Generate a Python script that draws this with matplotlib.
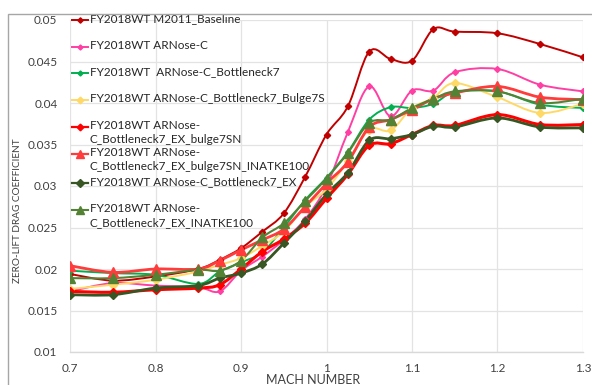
import numpy as np
import matplotlib
matplotlib.use("Agg")
import matplotlib.pyplot as plt
from matplotlib.path import Path
from matplotlib.patches import PathPatch, Rectangle
from matplotlib.lines import Line2D

plt.rcParams['font.family'] = ['Lato', 'DejaVu Sans']

mach = [0.7, 0.75, 0.8, 0.85, 0.875, 0.9, 0.925, 0.95, 0.975, 1.0, 1.025,
        1.05, 1.075, 1.1, 1.125, 1.15, 1.2, 1.25, 1.3]

baseline = [0.0194, 0.0186, 0.0191, 0.0200, 0.0211, 0.0225, 0.0245, 0.0267, 0.0311, 0.0362,
            0.0396, 0.0462, 0.0453, 0.0451, 0.0489, 0.0486, 0.0484, 0.0471, 0.0455]
arnose_c = [0.0173, 0.0183, 0.0180, 0.0178, 0.0173, 0.0198, 0.0215, 0.0235, 0.0260, 0.0300,
            0.0365, 0.0420, 0.0384, 0.0415, 0.0415, 0.0437, 0.0441, 0.0422, 0.0414]
bottleneck7 = [0.0198, 0.0195, 0.0193, 0.0182, 0.0197, 0.0208, 0.0220, 0.0250, 0.0283, 0.0310,
               0.0341, 0.0380, 0.0395, 0.0394, 0.0399, 0.0413, 0.0414, 0.0398, 0.0394]
bulge7s = [0.0176, 0.0181, 0.0187, 0.0197, 0.0205, 0.0213, 0.0228, 0.0245, 0.0275, 0.0296,
           0.0330, 0.0368, 0.0367, 0.0394, 0.0406, 0.0424, 0.0407, 0.0388, 0.0399]
ex_bulge7sn = [0.0173, 0.0172, 0.0175, 0.0177, 0.0181, 0.0200, 0.0221, 0.0236, 0.0255, 0.0285,
               0.0314, 0.0349, 0.0351, 0.0362, 0.0373, 0.0373, 0.0386, 0.0374, 0.0374]
ex_bulge7sn_inatke = [0.0204, 0.0196, 0.0200, 0.0200, 0.0210, 0.0223, 0.0235, 0.0248, 0.0275, 0.0303,
                      0.0329, 0.0371, 0.0380, 0.0392, 0.0405, 0.0412, 0.0420, 0.0407, 0.0404]
ex = [0.0169, 0.0169, 0.0177, 0.0180, 0.0189, 0.0195, 0.0206, 0.0231, 0.0258, 0.0290,
      0.0316, 0.0355, 0.0357, 0.0362, 0.0372, 0.0371, 0.0382, 0.0371, 0.0370]
ex_inatke = [0.0189, 0.0189, 0.0193, 0.0199, 0.0198, 0.0210, 0.0238, 0.0255, 0.0282, 0.0309,
             0.0340, 0.0376, 0.0380, 0.0394, 0.0405, 0.0414, 0.0414, 0.0400, 0.0405]

labels = ["FY2018WT M2011_Baseline",
          "FY2018WT ARNose-C",
          "FY2018WT  ARNose-C_Bottleneck7",
          "FY2018WT ARNose-C_Bottleneck7_Bulge7S",
          "FY2018WT ARNose-\nC_Bottleneck7_EX_bulge7SN",
          "FY2018WT ARNose-\nC_Bottleneck7_EX_bulge7SN_INATKE100",
          "FY2018WT ARNose-C_Bottleneck7_EX",
          "FY2018WT ARNose-\nC_Bottleneck7_EX_INATKE100"]

series = [baseline, arnose_c, bottleneck7, bulge7s, ex_bulge7sn, ex_bulge7sn_inatke, ex, ex_inatke]
styles = [
    dict(color='#C00000', lw=1.4, marker='D', ms=3.2),
    dict(color='#FF3FA4', lw=1.4, marker='D', ms=3.0),
    dict(color='#00B050', lw=1.4, marker='D', ms=3.0),
    dict(color='#FFD966', lw=1.4, marker='D', ms=4.0),
    dict(color='#FF0000', lw=2.2, marker='D', ms=4.0),
    dict(color='#FF3B3B', lw=2.0, marker='^', ms=7.5),
    dict(color='#375623', lw=2.0, marker='D', ms=4.5),
    dict(color='#548235', lw=1.5, marker='^', ms=6.5),
]


def smooth_path(x, y):
    pts = np.column_stack([x, y]).astype(float)
    n = len(pts)
    verts = [pts[0]]
    codes = [Path.MOVETO]
    for i in range(n - 1):
        p0 = pts[i - 1] if i > 0 else pts[i]
        p1 = pts[i]
        p2 = pts[i + 1]
        p3 = pts[i + 2] if i + 2 < n else pts[i + 1]
        c1 = p1 + (p2 - p0) / 6.0
        c2 = p2 - (p3 - p1) / 6.0
        verts += [c1, c2, p2]
        codes += [Path.CURVE4] * 3
    return Path(verts, codes)


W, H = 592, 385
fig = plt.figure(figsize=(W / 100, H / 100), dpi=100)
ax = fig.add_axes([70 / W, 1 - 352 / H, (583 - 70) / W, (352 - 20) / H])

# outer chart frame
fig.patches.append(Rectangle((8 / W, -0.05), 1.1, 1 - 14 / H + 0.05, transform=fig.transFigure,
                             fill=False, edgecolor='#A6A6A6', lw=1.0))

for vals, st in zip(series, styles):
    patch = PathPatch(smooth_path(mach, vals), fill=False, edgecolor=st['color'],
                      lw=st['lw'], capstyle='round', joinstyle='round', zorder=3)
    ax.add_patch(patch)
    ax.plot(mach, vals, ls='none', marker=st['marker'], ms=st['ms'],
            color=st['color'], mec=st['color'], zorder=4)

ax.set_xlim(0.7, 1.3)
ax.set_ylim(0.01, 0.05)
ax.set_xticks([0.7, 0.8, 0.9, 1.0, 1.1, 1.2, 1.3])
ax.set_xticklabels(['0.7', '0.8', '0.9', '1', '1.1', '1.2', '1.3'])
ax.set_yticks([0.01, 0.015, 0.02, 0.025, 0.03, 0.035, 0.04, 0.045, 0.05])
ax.set_yticklabels(['0.01', '0.015', '0.02', '0.025', '0.03', '0.035', '0.04', '0.045', '0.05'])
ax.grid(True, color='#E3E3E3', lw=0.9)
ax.set_axisbelow(True)
for s in ['top', 'right', 'left']:
    ax.spines[s].set_visible(False)
ax.spines['bottom'].set_color('#D9D9D9')
ax.spines['bottom'].set_linewidth(1.0)
ax.tick_params(length=0, labelsize=8.5, colors='#404040', pad=8)
ax.tick_params(axis='y', pad=9)

fig.text(313 / W, 1 - 380 / H, 'MACH NUMBER', ha='center', va='center', fontsize=9, color='#404040')
fig.text(18 / W, 1 - 211 / H, 'ZERO-LIFT DRAG COEFFICIENT', ha='center', va='center',
         rotation=90, fontsize=7.2, color='#404040')

# manual legend (Excel-style, handle aligned with first line)
leg_y = [20, 47, 73, 100, 127, 154, 183, 210]
for lab, st, yp in zip(labels, styles, leg_y):
    yf = (352 - yp) / 332
    ax.add_line(Line2D([2 / 513, 18 / 513], [yf, yf], transform=ax.transAxes, color=st['color'],
                       lw=min(st['lw'], 1.6), clip_on=False, zorder=5))
    ax.add_line(Line2D([10 / 513], [yf], transform=ax.transAxes, color=st['color'], ls='none',
                       marker=st['marker'], ms=st['ms'] * 0.85, clip_on=False, zorder=5))
    ax.text(20 / 513, yf + 7 / 332, lab, transform=ax.transAxes, ha='left', va='top',
            fontsize=8.5, color='#262626', linespacing=1.3, zorder=5)

fig.savefig('out.png', dpi=100)
